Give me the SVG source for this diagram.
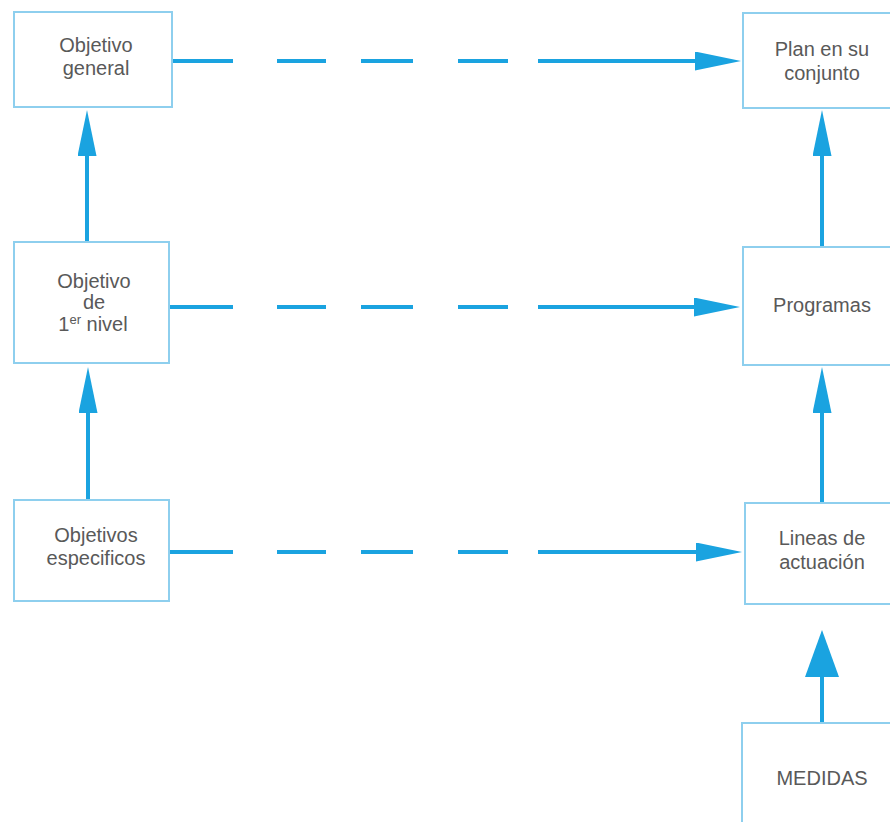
<svg xmlns="http://www.w3.org/2000/svg" width="890" height="822" viewBox="0 0 890 822">
  <style>
    .box { fill: #ffffff; stroke: #8ecfee; stroke-width: 2; }
    .lbl { font-family: "Liberation Sans", Arial, sans-serif; font-size: 20px; fill: #595959; text-anchor: middle; }
    .sup { font-size: 13px; }
    .conn { fill: none; stroke: #1aa3e0; stroke-width: 4; }
  </style>
  <defs>
    <marker id="head" viewBox="0 0 46 19" refX="16" refY="9.5" markerWidth="46" markerHeight="19" markerUnits="userSpaceOnUse" orient="auto">
      <path d="M0,0 L46,9.5 L0,19 Z" fill="#1aa3e0"/>
    </marker>
    <marker id="headBig" viewBox="0 0 47 34" refX="17" refY="17" markerWidth="47" markerHeight="34" markerUnits="userSpaceOnUse" orient="auto">
      <path d="M0,0 L47,17 L0,34 Z" fill="#1aa3e0"/>
    </marker>
  </defs>

  <!-- connectors -->
  <g id="connectors" class="conn">
    <!-- dashed links, left column to right column -->
    <path d="M171,61 H233 M277,61 H326 M361,61 H413 M458,61 H508 M538,61 H711" marker-end="url(#head)"/>
    <path d="M169,307 H233 M277,307 H326 M361,307 H413 M458,307 H508 M538,307 H710" marker-end="url(#head)"/>
    <path d="M169,552 H233 M277,552 H326 M361,552 H413 M458,552 H508 M538,552 H712" marker-end="url(#head)"/>
    <!-- upward links -->
    <path d="M87,242 V140" marker-end="url(#head)"/>
    <path d="M88,500 V397" marker-end="url(#head)"/>
    <path d="M822,247 V140" marker-end="url(#head)"/>
    <path d="M822,503 V397" marker-end="url(#head)"/>
    <path d="M822,723 V660" marker-end="url(#headBig)"/>
  </g>

  <g id="objetivo-general">
    <rect class="box" x="14" y="12" width="158" height="95"/>
    <text class="lbl" x="96" y="52">Objetivo</text>
    <text class="lbl" x="96" y="75">general</text>
  </g>

  <g id="objetivo-1er-nivel">
    <rect class="box" x="14" y="242" width="155" height="121"/>
    <text class="lbl" x="94" y="288">Objetivo</text>
    <text class="lbl" x="94" y="309">de</text>
    <text class="lbl" x="93" y="331">1<tspan class="sup" dy="-7">er</tspan><tspan dy="7"> nivel</tspan></text>
  </g>

  <g id="objetivos-especificos">
    <rect class="box" x="14" y="500" width="155" height="101"/>
    <text class="lbl" x="96" y="542">Objetivos</text>
    <text class="lbl" x="96" y="565">especificos</text>
  </g>

  <g id="plan-en-su-conjunto">
    <rect class="box" x="743" y="13" width="160" height="95"/>
    <text class="lbl" x="822" y="56">Plan en su</text>
    <text class="lbl" x="822" y="80">conjunto</text>
  </g>

  <g id="programas">
    <rect class="box" x="743" y="247" width="160" height="118"/>
    <text class="lbl" x="822" y="312">Programas</text>
  </g>

  <g id="lineas-de-actuacion">
    <rect class="box" x="745" y="503" width="160" height="101"/>
    <text class="lbl" x="822" y="545">Lineas de</text>
    <text class="lbl" x="822" y="569">actuación</text>
  </g>

  <g id="medidas">
    <rect class="box" x="742" y="723" width="160" height="110"/>
    <text class="lbl" x="822" y="785">MEDIDAS</text>
  </g>
</svg>
